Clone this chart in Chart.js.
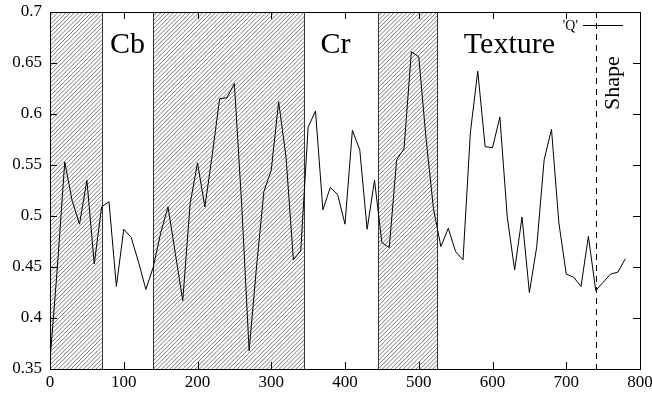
<!DOCTYPE html>
<html>
<head>
<meta charset="utf-8">
<script src="https://cdn.jsdelivr.net/npm/chart.js@4/dist/chart.umd.min.js"></script>
<style>
  html, body { margin: 0; padding: 0; background: #fff; }
</style>
</head>
<body>
<canvas id="qChart" width="652" height="394"></canvas>
<script>
// sample positions and measured Q values
const xs = [0, 10, 20, 30, 40, 50, 60, 70, 80, 90,
  100, 110, 120, 130, 140, 150, 160, 170, 180, 190,
  200, 210, 220, 230, 240, 250, 260, 270, 280, 290,
  300, 310, 320, 330, 340, 350, 360, 370, 380, 390,
  400, 410, 420, 430, 440, 450, 460, 470, 480, 490,
  500, 510, 520, 530, 540, 550, 560, 570, 580, 590,
  600, 610, 620, 630, 640, 650, 660, 670, 680, 690,
  700, 710, 720, 730, 740, 750, 760, 770, 780];
const qValues = [0.358, 0.45, 0.553, 0.515, 0.492, 0.535, 0.453, 0.509, 0.514, 0.431,
  0.487, 0.479, 0.455, 0.428, 0.45, 0.483, 0.509, 0.463, 0.417, 0.512,
  0.552, 0.509, 0.56, 0.615, 0.616, 0.63, 0.51, 0.368, 0.45, 0.524,
  0.545, 0.612, 0.558, 0.457, 0.466, 0.587, 0.603, 0.506, 0.528, 0.521,
  0.492, 0.584, 0.565, 0.487, 0.535, 0.474, 0.469, 0.555, 0.566, 0.661,
  0.656, 0.575, 0.507, 0.47, 0.488, 0.465, 0.457, 0.582, 0.642, 0.568,
  0.567, 0.597, 0.499, 0.447, 0.499, 0.425, 0.47, 0.555, 0.585, 0.493,
  0.443, 0.44, 0.431, 0.48, 0.427, 0.435, 0.443, 0.445, 0.458];

// hatched feature bands [from, to] and the region labels (label x in data units)
const bands = [[0, 70], [140, 345], [445, 525]];
const regionLabels = ['Cb', 'Cr', 'Texture', 'Shape'];
const regionLabelX = [105, 387, 623, 772];
const shapeLine = 740;
const seriesName = "'Q'";

const serif = "'Liberation Serif', 'DejaVu Serif', serif";

const decor = {
  id: 'decor',
  beforeDatasetsDraw(chart) {
    const { ctx, chartArea: a, scales: { x, y } } = chart;
    ctx.save();
    // hatched bands
    bands.forEach(([from, to]) => {
      const l = x.getPixelForValue(from), r = x.getPixelForValue(to);
      ctx.save();
      ctx.beginPath();
      ctx.rect(l, a.top, r - l, a.bottom - a.top);
      ctx.clip();
      ctx.strokeStyle = '#444';
      ctx.lineWidth = 0.7;
      ctx.beginPath();
      const h = a.bottom - a.top;
      for (let s = l - h; s < r + 5; s += 4.2) {
        ctx.moveTo(s, a.bottom);
        ctx.lineTo(s + h, a.top);
      }
      ctx.stroke();
      ctx.restore();
      ctx.strokeStyle = '#333';
      ctx.lineWidth = 1;
      ctx.beginPath();
      ctx.moveTo(Math.round(l) + 0.5, a.top);
      ctx.lineTo(Math.round(l) + 0.5, a.bottom);
      ctx.moveTo(Math.round(r) + 0.5, a.top);
      ctx.lineTo(Math.round(r) + 0.5, a.bottom);
      ctx.stroke();
    });
    // band labels
    ctx.fillStyle = '#000';
    ctx.font = '30px ' + serif;
    ctx.textAlign = 'center';
    ctx.textBaseline = 'alphabetic';
    for (let i = 0; i < 3; i++) {
      ctx.fillText(regionLabels[i], x.getPixelForValue(regionLabelX[i]), 53);
    }
    ctx.save();
    ctx.font = '22px ' + serif;
    ctx.translate(x.getPixelForValue(regionLabelX[3]), 83);
    ctx.rotate(-Math.PI / 2);
    ctx.fillText(regionLabels[3], 0, 0);
    ctx.restore();
    // dashed Shape boundary
    const sx = Math.round(x.getPixelForValue(shapeLine)) + 0.5;
    ctx.strokeStyle = '#000';
    ctx.lineWidth = 1;
    ctx.setLineDash([6, 5]);
    ctx.beginPath();
    ctx.moveTo(sx, a.top);
    ctx.lineTo(sx, a.bottom);
    ctx.stroke();
    ctx.setLineDash([]);
    ctx.restore();
  },
  afterDatasetsDraw(chart) {
    const { ctx, chartArea: a, scales: { x, y } } = chart;
    ctx.save();
    ctx.strokeStyle = '#000';
    ctx.lineWidth = 1;
    ctx.beginPath();
    // inward ticks on all four sides
    x.ticks.forEach(t => {
      const px = Math.round(x.getPixelForValue(t.value)) + 0.5;
      ctx.moveTo(px, a.bottom); ctx.lineTo(px, a.bottom - 7);
      ctx.moveTo(px, a.top); ctx.lineTo(px, a.top + 7);
    });
    y.ticks.forEach(t => {
      const py = Math.round(y.getPixelForValue(t.value)) + 0.5;
      ctx.moveTo(a.left, py); ctx.lineTo(a.left + 7, py);
      ctx.moveTo(a.right, py); ctx.lineTo(a.right - 7, py);
    });
    ctx.stroke();
    ctx.strokeRect(Math.round(a.left) + 0.5, Math.round(a.top) + 0.5,
      Math.round(a.right - a.left), Math.round(a.bottom - a.top));
    // key
    ctx.font = '14px ' + serif;
    ctx.fillStyle = '#000';
    ctx.textAlign = 'right';
    ctx.textBaseline = 'middle';
    ctx.fillText(seriesName, 578, 26);
    ctx.beginPath();
    ctx.moveTo(583, 25.5);
    ctx.lineTo(623, 25.5);
    ctx.stroke();
    ctx.restore();
  }
};

new Chart(document.getElementById('qChart'), {
  type: 'line',
  data: {
    datasets: [{
      label: seriesName,
      data: xs.map((v, i) => ({ x: v, y: qValues[i] })),
      borderColor: '#000',
      borderWidth: 1,
      pointRadius: 0,
      tension: 0,
      fill: false
    }]
  },
  options: {
    responsive: false,
    animation: false,
    layout: { padding: { top: 12, right: 12, left: 0, bottom: 0 } },
    plugins: { legend: { display: false }, tooltip: { enabled: false } },
    scales: {
      x: {
        type: 'linear',
        min: 0,
        max: 800,
        ticks: { stepSize: 100, color: '#000', padding: 3, font: { family: serif, size: 17 } },
        grid: { display: false, drawTicks: false },
        border: { display: false },
        afterFit(s) { s.height = 25; s.paddingLeft = 0; s.paddingRight = 0; }
      },
      y: {
        min: 0.35,
        max: 0.7,
        ticks: {
          stepSize: 0.05,
          color: '#000',
          padding: 8,
          font: { family: serif, size: 17 },
          callback: v => String(Math.round(v * 100) / 100)
        },
        grid: { display: false, drawTicks: false },
        border: { display: false },
        afterFit(s) { s.width = 50; s.paddingTop = 0; s.paddingBottom = 0; }
      }
    }
  },
  plugins: [decor]
});
</script>
</body>
</html>
